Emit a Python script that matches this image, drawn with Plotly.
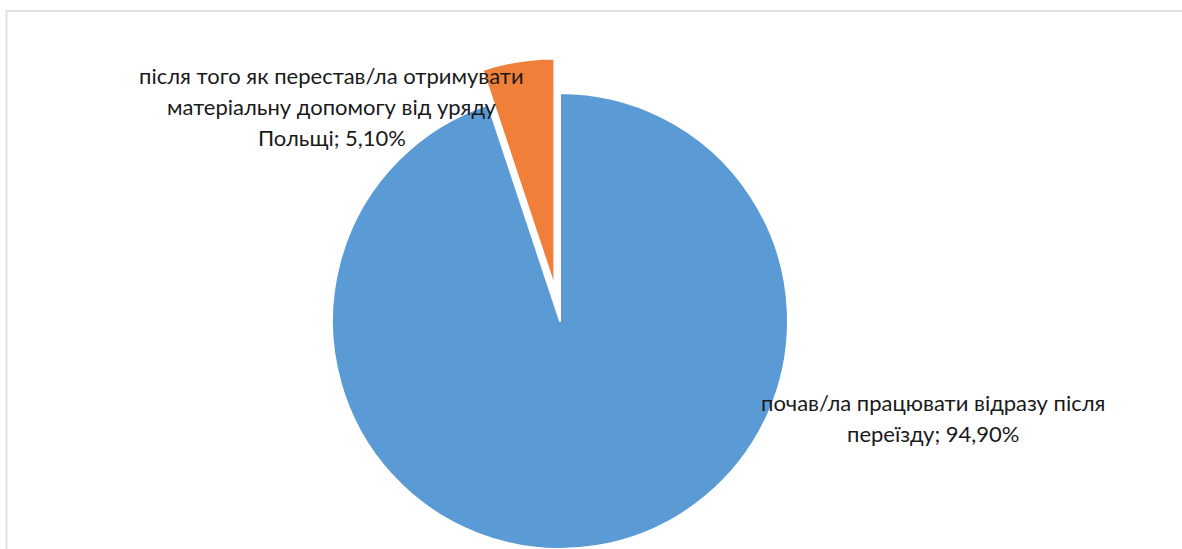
import math
import plotly.graph_objects as go

# ---- data ----
categories = [
    "почав/ла працювати відразу після переїзду",
    "після того як перестав/ла отримувати матеріальну допомогу від уряду Польщі",
]
shares = [94.9, 5.1]  # percent
pulled = [False, True]

colors = ["#5b9bd5", "#f07f3a"]

W, H = 1182, 549
R = 228            # pie radius, px
CX, CY = 560, 321  # pie centre, px (from top)
PULL_PX = 35       # pull-out distance of the detached slice


def fmt_pct(v):
    return f"{v:.2f}".replace(".", ",") + "%"


def domain_for(cx, cy, r):
    return dict(x=[(cx - r) / W, (cx + r) / W], y=[1 - (cy + r) / H, 1 - (cy - r) / H])


fig = go.Figure()

# main pie (non-pulled slices visible)
total = sum(shares)
fig.add_trace(go.Pie(
    labels=categories, values=shares, sort=False, direction="clockwise", rotation=0,
    marker=dict(colors=[("rgba(0,0,0,0)" if p else c) for c, p in zip(colors, pulled)],
                line=dict(color="white", width=[0 if p else 2 for p in pulled])),
    textinfo="none", hoverinfo="skip", showlegend=False,
    domain=domain_for(CX, CY, R),
))

# pulled slices, drawn as a shifted copy
cum = 0
for i, v in enumerate(shares):
    if pulled[i]:
        mid = (cum + v / 2) / total * 2 * math.pi
        dx = PULL_PX * math.sin(mid)
        dy = -PULL_PX * math.cos(mid)
        fig.add_trace(go.Pie(
            labels=categories, values=shares, sort=False, direction="clockwise", rotation=0,
            marker=dict(colors=[(c if j == i else "rgba(0,0,0,0)") for j, c in enumerate(colors)],
                        line=dict(color="white", width=[(2 if j == i else 0) for j in range(len(shares))])),
            textinfo="none", hoverinfo="skip", showlegend=False,
            domain=domain_for(CX + dx, CY + dy, R),
        ))
    cum += v

# ---- labels ----
label_lines = [
    ["почав/ла працювати відразу після", "переїзду; " + fmt_pct(shares[0])],
    ["після того як перестав/ла отримувати", "матеріальну допомогу від уряду", "Польщі; " + fmt_pct(shares[1])],
]
label_pos = [(933, 402), (332, 75)]  # centre x, first-line y (px)
LINE_H = 31

annotations = []
for lines, (lx, ly) in zip(label_lines, label_pos):
    for k, t in enumerate(lines):
        annotations.append(dict(
            x=lx / W, y=1 - (ly + k * LINE_H) / H, xref="paper", yref="paper",
            text=t, showarrow=False, xanchor="center", yanchor="middle",
            font=dict(family="Lato, Carlito, sans-serif", size=22, color="#1a1a1a"),
        ))

fig.update_layout(
    width=W, height=H,
    margin=dict(l=0, r=0, t=0, b=0),
    paper_bgcolor="white", plot_bgcolor="white",
    annotations=annotations,
    shapes=[dict(type="rect", xref="paper", yref="paper",
                 x0=6.5 / W, x1=1.05, y0=-0.05, y1=1 - 11 / H,
                 line=dict(color="#dfe3e8", width=2), layer="below")],
)

fig.write_html("out.html",
               config={"displayModeBar": False},
               post_script="document.body.style.margin='0';document.body.style.overflow='hidden';")
